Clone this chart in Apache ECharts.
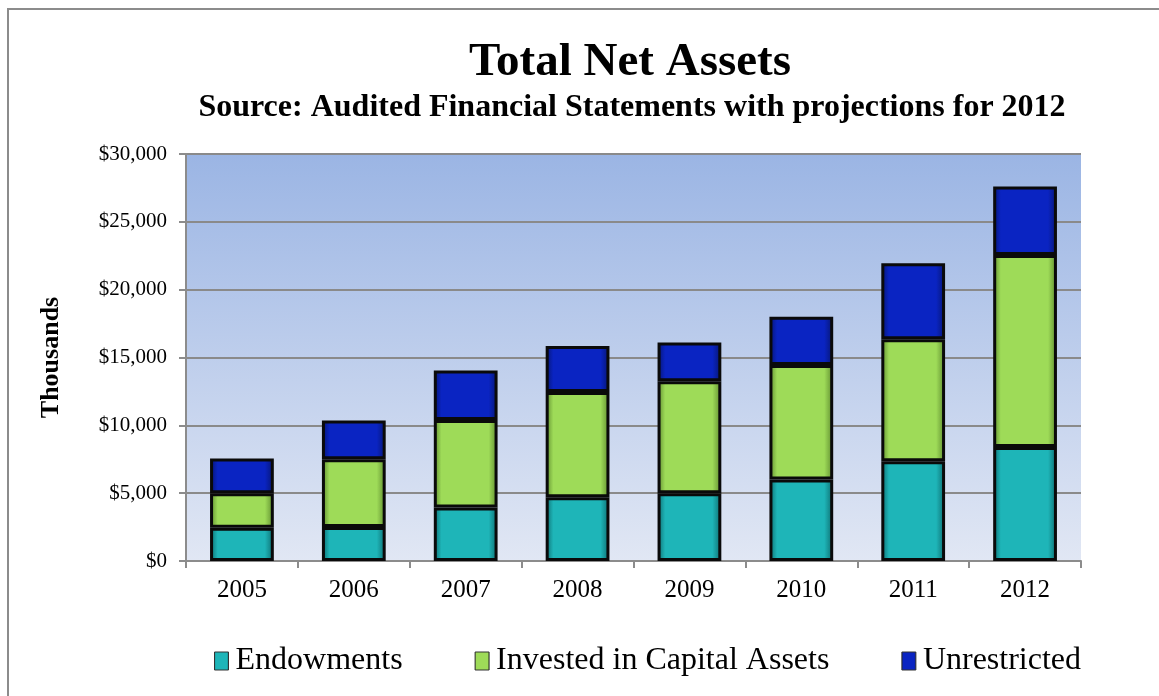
<!DOCTYPE html>
<html>
<head>
<meta charset="utf-8">
<script src="https://cdn.jsdelivr.net/npm/echarts@6/dist/echarts.min.js"></script>
<style>
html,body{margin:0;padding:0;background:#fff;}
#wrap{position:relative;width:1159px;height:696px;overflow:hidden;}
#chart{position:absolute;left:0;top:0;width:1159px;height:696px;}
#frame{position:absolute;left:7px;top:8px;width:1160px;height:700px;border:2px solid #8c8c8c;box-sizing:border-box;pointer-events:none;}
</style>
</head>
<body>
<div id="wrap"><div id="chart"></div><div id="frame"></div></div>
<script>
const categories = ['2005','2006','2007','2008','2009','2010','2011','2012'];
const endowments = [2450, 2500, 3950, 4700, 5000, 6000, 7350, 8400];
const invested = [2550, 5000, 6450, 7750, 8250, 8450, 9000, 14150];
const unrestricted = [2550, 2850, 3650, 3400, 2850, 3550, 5600, 5050];

function bevel(main, edge) {
  return {
    type: 'linear', x: 0, y: 0, x2: 1, y2: 0,
    colorStops: [
      {offset: 0, color: edge},
      {offset: 0.12, color: main},
      {offset: 0.86, color: main},
      {offset: 1, color: edge}
    ]
  };
}
const serif = '"Liberation Serif","Times New Roman",serif';
const chart = echarts.init(document.getElementById('chart'));
function mk(name, data, main, edge) {
  return {
    name: name, type: 'bar', stack: 'total', data: data,
    barWidth: '57%',
    itemStyle: {color: bevel(main, edge), borderColor: '#0a0a0a', borderWidth: 3},
    emphasis: {disabled: true}
  };
}
chart.setOption({
  animation: false,
  title: [
    {text: 'Total Net Assets', left: 625, top: 34, textAlign: 'center',
     textStyle: {fontFamily: serif, fontSize: 47, fontWeight: 'bold', color: '#000'}},
    {text: 'Source: Audited Financial Statements with projections for 2012', left: 627, top: 87, textAlign: 'center',
     textStyle: {fontFamily: serif, fontSize: 32, fontWeight: 'bold', color: '#000'}}
  ],
  grid: {left: 186, right: 78, top: 154, bottom: 135, show: true, borderWidth: 0,
    backgroundColor: {type: 'linear', x: 0, y: 0, x2: 0, y2: 1,
      colorStops: [{offset: 0, color: '#9bb5e4'}, {offset: 1, color: '#e1e7f4'}]}},
  legend: {
    top: 640, left: 209, itemWidth: 14, itemHeight: 18, itemGap: 72,
    icon: 'rect',
    textStyle: {fontFamily: serif, fontSize: 32, color: '#000', padding: [0,0,0,2]},
    itemStyle: {borderColor: '#333', borderWidth: 1},
    data: ['Endowments', 'Invested in Capital Assets', 'Unrestricted']
  },
  xAxis: {
    type: 'category', data: categories,
    axisLine: {lineStyle: {color: '#8c8c8c', width: 2}},
    axisTick: {show: true, length: 7, lineStyle: {color: '#8c8c8c', width: 2}},
    axisLabel: {fontFamily: serif, fontSize: 25, color: '#000', margin: 17}
  },
  yAxis: {
    type: 'value', min: 0, max: 30000, interval: 5000,
    name: 'Thousands', nameLocation: 'middle', nameGap: 122, nameRotate: 90,
    nameTextStyle: {fontFamily: serif, fontSize: 26, fontWeight: 'bold', color: '#000'},
    axisLine: {show: true, lineStyle: {color: '#8c8c8c', width: 2}},
    axisTick: {show: true, length: 7, lineStyle: {color: '#8c8c8c', width: 2}},
    splitLine: {lineStyle: {color: '#8a8a8a', width: 2}},
    axisLabel: {fontFamily: serif, fontSize: 21, color: '#000', margin: 19,
      formatter: function (v) { return '$' + v.toLocaleString('en-US'); }}
  },
  series: [
    mk('Endowments', endowments, '#1eb5b8', '#0d6b6e'),
    mk('Invested in Capital Assets', invested, '#9edb58', '#5d8a2e'),
    mk('Unrestricted', unrestricted, '#0a24c2', '#061570')
  ]
});
</script>
</body>
</html>
